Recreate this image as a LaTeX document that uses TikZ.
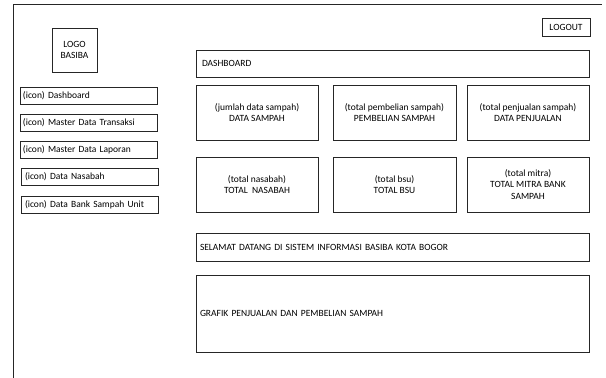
\documentclass[tikz,border=0pt]{standalone}
\usepackage{fontspec}
\setmainfont{Carlito}
\begin{document}
\begin{tikzpicture}[x=1pt,y=-1pt,
  box/.style={draw=black!85, line width=0.8pt, inner sep=0pt, outer sep=0pt, anchor=north west, align=center, font=\fontsize{9.5}{11.2}\selectfont},
  lbox/.style={box, align=left, text width=#1}]
\useasboundingbox (0,0) rectangle (606,378);
% outer frame
\coordinate (fbl) at (13,378);
\coordinate (ftl) at (13,4);
\coordinate (ftr) at (602,4);
\draw[black!85, line width=0.8pt] (fbl) -- (ftl) -- (ftr);
% logo
\node[box, minimum width=45pt, minimum height=44pt] (logo) at (52,28) {LOGO\\BASIBA};
% menu
\node[lbox=131pt, minimum width=137pt, minimum height=17pt] (m1) at (20,87) {(icon) Dashboard};
\node[lbox=131pt, minimum width=137pt, minimum height=17pt] (m2) at (20,114) {(icon) Master Data Transaksi};
\node[lbox=131pt, minimum width=137pt, minimum height=17pt] (m3) at (20,141) {(icon) Master Data Laporan};
\node[lbox=129pt, minimum width=137pt, minimum height=17pt] (m4) at (21,168) {(icon) Data Nasabah};
\node[lbox=129pt, minimum width=137pt, minimum height=17pt] (m5) at (21,196) {(icon) Data Bank Sampah Unit};
% logout
\node[box, minimum width=48pt, minimum height=18pt] (logout) at (542,18) {LOGOUT};
% dashboard bar
\node[lbox=381pt, minimum width=393pt, minimum height=27pt] (dash) at (196,50) {DASHBOARD};
% row 1
\node[box, minimum width=122pt, minimum height=55pt] (r1a) at (196,85) {(jumlah data sampah)\\DATA SAMPAH};
\node[box, minimum width=123pt, minimum height=55pt] (r1b) at (333,85) {(total pembelian sampah)\\PEMBELIAN SAMPAH};
\node[box, minimum width=122pt, minimum height=55pt] (r1c) at (467,85) {(total penjualan sampah)\\DATA PENJUALAN};
% row 2
\node[box, minimum width=122pt, minimum height=55pt] (r2a) at (196,157) {(total nasabah)\\TOTAL\ \ NASABAH};
\node[box, minimum width=123pt, minimum height=55pt] (r2b) at (333,157) {(total bsu)\\TOTAL BSU};
\node[box, minimum width=122pt, minimum height=55pt] (r2c) at (467,157) {(total mitra)\\TOTAL MITRA BANK\\SAMPAH};
% welcome
\node[lbox=385pt, minimum width=393pt, minimum height=28pt] (welcome) at (196,233) {SELAMAT DATANG DI SISTEM INFORMASI BASIBA KOTA BOGOR};
% chart
\node[lbox=385pt, minimum width=393pt, minimum height=77pt] (chart) at (196,275) {GRAFIK PENJUALAN DAN PEMBELIAN SAMPAH};
\end{tikzpicture}
\end{document}
